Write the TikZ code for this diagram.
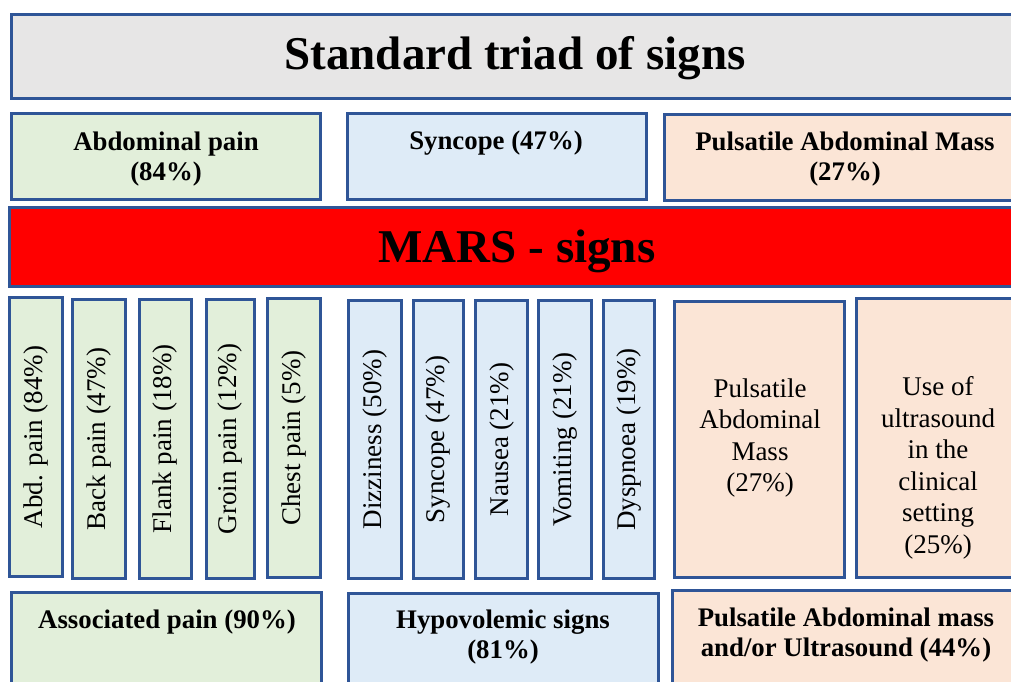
\documentclass[tikz,border=0pt]{standalone}
\usepackage{fontspec}
\setmainfont{Liberation Serif}
\definecolor{bordc}{HTML}{2F5597}
\definecolor{greyf}{HTML}{E7E6E6}
\definecolor{greenf}{HTML}{E2EFDA}
\definecolor{bluef}{HTML}{DEEBF7}
\definecolor{peachf}{HTML}{FBE5D6}
\definecolor{redf}{HTML}{FF0000}
\tikzset{
  box/.style={draw=bordc, line width=3.6pt, rectangle, inner sep=0pt},
  gbox/.style={box, fill=greenf},
  bbox/.style={box, fill=bluef},
  pbox/.style={box, fill=peachf},
  bigtxt/.style={font=\bfseries\fontsize{47}{54}\selectfont, inner sep=0pt},
  btxt/.style={font=\bfseries\fontsize{26.8}{30.5}\selectfont, align=center, inner sep=0pt},
  rtxt/.style={font=\fontsize{27}{31.5}\selectfont, align=center, inner sep=0pt},
  vtxt/.style={font=\fontsize{27}{31.5}\selectfont, rotate=90, inner sep=0pt},
}
\begin{document}
\begin{tikzpicture}[x=1pt,y=-1pt]
\useasboundingbox (0,0) rectangle (1011,682);
\begin{scope}
\clip (0,0) rectangle (1011,682);
% title
\node[box, fill=greyf, minimum width=1007pt, minimum height=84pt] (title) at (515,56.5) {};
\node[bigtxt] (titletxt) at (515,58) {Standard triad of signs};
% triad row
\node[gbox, minimum width=309pt, minimum height=86pt] (abdp) at (166,156.5) {};
\node[btxt] (abdptxt) at (166,159) {Abdominal pain\\(84\%)};
\node[bbox, minimum width=299pt, minimum height=86pt] (sync) at (497,156.5) {};
\node[btxt] (synctxt) at (496,143) {Syncope (47\%)};
\node[pbox, minimum width=354pt, minimum height=86pt] (puls) at (841.5,157.5) {};
\node[btxt] (pulstxt) at (845,159) {Pulsatile Abdominal Mass\\(27\%)};
% MARS band
\node[box, fill=redf, minimum width=1009pt, minimum height=79pt] (mars) at (514,247) {};
\node[bigtxt] (marstxt) at (517,251) {MARS - signs};
% pain columns
\node[gbox, minimum width=53pt, minimum height=279pt] (g1) at (36,437) {};
\node[vtxt] (g1t) at (g1.center) {Abd. pain (84\%)};
\node[gbox, minimum width=53pt, minimum height=279pt] (g2) at (99,439) {};
\node[vtxt] (g2t) at (g2.center) {Back pain (47\%)};
\node[gbox, minimum width=52pt, minimum height=279pt] (g3) at (165.5,439) {};
\node[vtxt] (g3t) at (g3.center) {Flank pain (18\%)};
\node[gbox, minimum width=48pt, minimum height=279pt] (g4) at (230.5,439) {};
\node[vtxt] (g4t) at (g4.center) {Groin pain (12\%)};
\node[gbox, minimum width=53pt, minimum height=279pt] (g5) at (294,438) {};
\node[vtxt] (g5t) at (g5.center) {Chest pain (5\%)};
% hypovolemic columns
\node[bbox, minimum width=53pt, minimum height=278pt] (b1) at (375,439.5) {};
\node[vtxt] (b1t) at (b1.center) {Dizziness (50\%)};
\node[bbox, minimum width=50pt, minimum height=278pt] (b2) at (438.5,439.5) {};
\node[vtxt] (b2t) at (b2.center) {Syncope (47\%)};
\node[bbox, minimum width=52pt, minimum height=278pt] (b3) at (501.5,439.5) {};
\node[vtxt] (b3t) at (b3.center) {Nausea (21\%)};
\node[bbox, minimum width=53pt, minimum height=278pt] (b4) at (565,439.5) {};
\node[vtxt] (b4t) at (b4.center) {Vomiting (21\%)};
\node[bbox, minimum width=51pt, minimum height=278pt] (b5) at (629,439.5) {};
\node[vtxt] (b5t) at (b5.center) {Dyspnoea (19\%)};
% mass columns
\node[pbox, minimum width=170pt, minimum height=276pt] (p1) at (759.5,439.5) {};
\node[rtxt] (p1t) at (760,438) {Pulsatile\\Abdominal\\Mass\\(27\%)};
\node[pbox, minimum width=162pt, minimum height=279pt] (p2) at (937.5,438) {};
\node[rtxt] (p2t) at (938,468) {Use of\\ultrasound\\in the\\clinical\\setting\\(25\%)};
% bottom row
\node[gbox, minimum width=310pt, minimum height=120pt] (assoc) at (166.5,652.5) {};
\node[btxt] (assoctxt) at (167,622) {Associated pain (90\%)};
\node[bbox, minimum width=310pt, minimum height=120pt] (hypo) at (503.5,653.5) {};
\node[btxt] (hypotxt) at (503,637) {Hypovolemic signs\\(81\%)};
\node[pbox, minimum width=346pt, minimum height=120pt] (pam) at (845.5,650.5) {};
\node[btxt] (pamtxt) at (846,635) {Pulsatile Abdominal mass\\and/or Ultrasound (44\%)};
\end{scope}
\end{tikzpicture}
\end{document}
